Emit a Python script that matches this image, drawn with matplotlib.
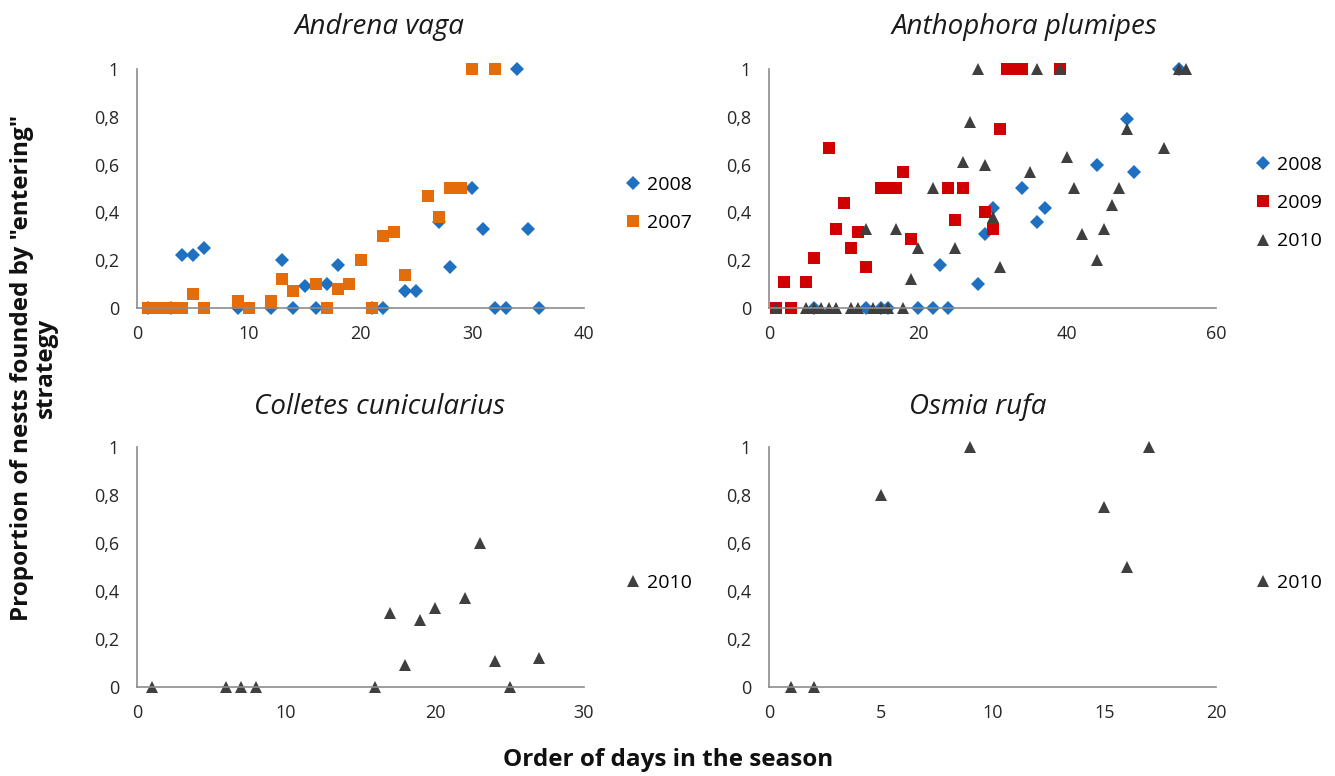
import matplotlib
matplotlib.use('Agg')
import matplotlib.pyplot as plt

plt.rcParams['font.family'] = ['Open Sans', 'DejaVu Sans']

# Andrena vaga
av_2008_x = [1, 3, 4, 5, 6, 9, 12, 13, 14, 15, 16, 17, 18, 21, 22, 24, 25, 27, 28, 30, 31, 32, 33, 34, 35, 36]
av_2008_y = [0, 0, 0.22, 0.22, 0.25, 0, 0, 0.2, 0, 0.09, 0, 0.1, 0.18, 0, 0, 0.07, 0.07, 0.36, 0.17, 0.5, 0.33, 0, 0, 1, 0.33, 0]
av_2007_x = [1, 2, 3, 4, 5, 6, 9, 10, 12, 13, 14, 16, 17, 18, 19, 20, 21, 22, 23, 24, 26, 27, 28, 29, 30, 32]
av_2007_y = [0, 0, 0, 0, 0.06, 0, 0.03, 0, 0.03, 0.12, 0.07, 0.1, 0, 0.08, 0.1, 0.2, 0, 0.3, 0.32, 0.14, 0.47, 0.38, 0.5, 0.5, 1, 1]

# Anthophora plumipes
ap_2008_x = [6, 13, 15, 16, 20, 22, 23, 24, 28, 29, 30, 34, 36, 37, 44, 48, 49, 55]
ap_2008_y = [0, 0, 0, 0, 0, 0, 0.18, 0, 0.1, 0.31, 0.42, 0.5, 0.36, 0.42, 0.6, 0.79, 0.57, 1]
ap_2009_x = [1, 2, 3, 5, 6, 8, 9, 10, 11, 12, 13, 15, 16, 17, 18, 19, 24, 25, 26, 29, 30, 31, 32, 33, 34, 39]
ap_2009_y = [0, 0.11, 0, 0.11, 0.21, 0.67, 0.33, 0.44, 0.25, 0.32, 0.17, 0.5, 0.5, 0.5, 0.57, 0.29,
             0.5, 0.37, 0.5, 0.4, 0.33, 0.75, 1, 1, 1, 1]
ap_2010_x = [1, 5, 6, 7, 8, 9, 11, 12, 13, 14, 15, 16, 17, 18, 19, 20, 22, 25, 26, 27, 28, 29, 30, 31,
             35, 36, 39, 40, 41, 42, 44, 45, 46, 47, 48, 53, 55, 56]
ap_2010_y = [0, 0, 0, 0, 0, 0, 0, 0, 0.33, 0, 0, 0, 0.33, 0, 0.12, 0.25, 0.5, 0.25, 0.61, 0.78, 1, 0.6, 0.38, 0.17,
             0.57, 1, 1, 0.63, 0.5, 0.31, 0.2, 0.33, 0.43, 0.5, 0.75, 0.67, 1, 1]

# Colletes cunicularius
cc_2010_x = [1, 6, 7, 8, 16, 17, 18, 19, 20, 22, 23, 24, 25, 27]
cc_2010_y = [0, 0, 0, 0, 0, 0.31, 0.09, 0.28, 0.33, 0.37, 0.6, 0.11, 0, 0.12]

# Osmia rufa
or_2010_x = [1, 2, 5, 9, 15, 16, 17]
or_2010_y = [0, 0, 0.8, 1, 0.75, 0.5, 1]

blue = '#1F70C1'
orange = '#E46C0A'
red = '#D00000'
grey = '#3F3F3F'

W, H = 1335, 776
fig = plt.figure(figsize=(W / 100, H / 100), dpi=100)


def make_ax(left, right, top, bottom, xmax, xstep):
    ax = fig.add_axes([left / W, 1 - bottom / H, (right - left) / W, (bottom - top) / H])
    ax.set_xlim(0, xmax)
    ax.set_ylim(0, 1)
    ax.set_xticks(range(0, xmax + 1, xstep))
    ax.set_yticks([0, 0.2, 0.4, 0.6, 0.8, 1])
    ax.set_yticklabels(['0', '0,2', '0,4', '0,6', '0,8', '1'])
    for s in ['top', 'right']:
        ax.spines[s].set_visible(False)
    for s in ['left', 'bottom']:
        ax.spines[s].set_color('#8C8C8C')
        ax.spines[s].set_linewidth(1.2)
    ax.tick_params(length=0, labelsize=13, colors='#262626')
    ax.tick_params(axis='x', pad=12)
    ax.tick_params(axis='y', pad=13)
    return ax


def pts(ax, x, y, marker, color, ms, label):
    ax.plot(x, y, linestyle='none', marker=marker, color=color, markersize=ms,
            markeredgewidth=0, label=label, clip_on=False)


def leg(ax, x, y):
    ax.legend(loc='center left', bbox_to_anchor=(x / W, 1 - y / H), bbox_transform=fig.transFigure,
              frameon=False, fontsize=14, handlelength=0.8, handletextpad=0.35, labelspacing=1.05,
              borderpad=0, borderaxespad=0)


ax1 = make_ax(137, 584, 69, 308, 40, 10)
pts(ax1, av_2008_x, av_2008_y, 'D', blue, 7.3, '2008')
pts(ax1, av_2007_x, av_2007_y, 's', orange, 8.3, '2007')
leg(ax1, 625, 204)

ax2 = make_ax(769, 1216, 69, 308, 60, 20)
pts(ax2, ap_2008_x, ap_2008_y, 'D', blue, 7.3, '2008')
pts(ax2, ap_2009_x, ap_2009_y, 's', red, 8.3, '2009')
pts(ax2, ap_2010_x, ap_2010_y, '^', grey, 9.3, '2010')
leg(ax2, 1255, 203)

ax3 = make_ax(137, 584, 447, 687, 30, 10)
pts(ax3, cc_2010_x, cc_2010_y, '^', grey, 9.3, '2010')
leg(ax3, 625, 583)

ax4 = make_ax(769, 1216, 447, 687, 20, 5)
pts(ax4, or_2010_x, or_2010_y, '^', grey, 9.3, '2010')
leg(ax4, 1255, 583)

titles = [('Andrena vaga', 380, 27), ('Anthophora plumipes', 1024, 27),
          ('Colletes cunicularius', 380, 407), ('Osmia rufa', 978, 407)]
for t, x, y in titles:
    fig.text(x / W, 1 - y / H, t, fontsize=20, style='italic', ha='center', va='center', color='#1A1A1A')

fig.text(34 / W, 1 - 368 / H, 'Proportion of nests founded by "entering"\nstrategy', rotation=90,
         fontsize=17.5, fontweight='bold', ha='center', va='center', linespacing=1.0, color='#111111')
fig.text(668 / W, 1 - 760 / H, 'Order of days in the season', fontsize=17.5, fontweight='bold',
         ha='center', va='center', color='#111111')

fig.savefig('out.png', dpi=100)
